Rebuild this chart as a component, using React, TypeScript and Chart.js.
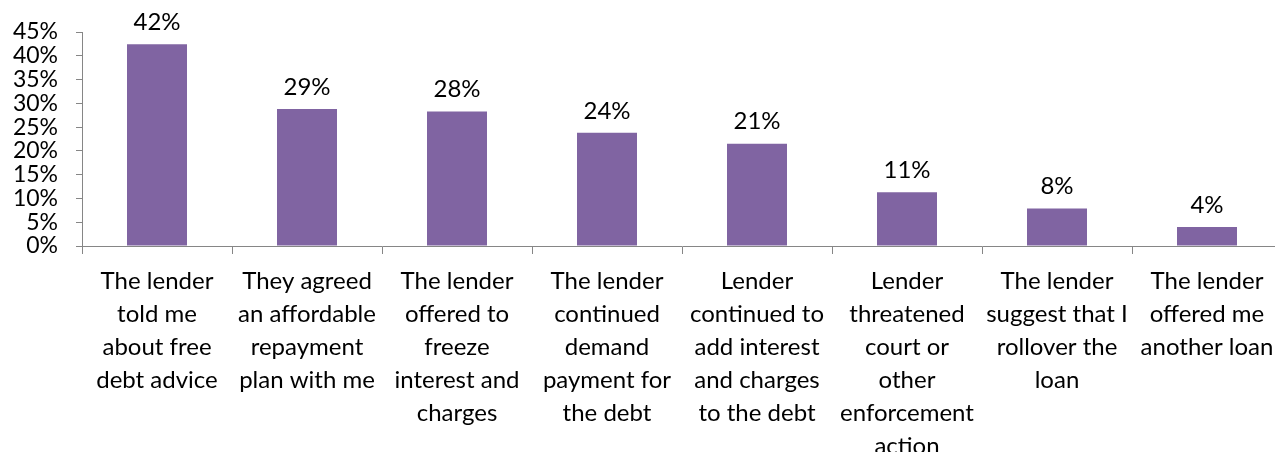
import React, { useEffect, useRef } from "react";
import { Chart, registerables } from "chart.js";

Chart.register(...registerables);

const categories: string[][] = [
  ["The lender", "told me", "about free", "debt advice"],
  ["They agreed", "an affordable", "repayment", "plan with me"],
  ["The lender", "offered to", "freeze", "interest and", "charges"],
  ["The lender", "continued", "demand", "payment for", "the debt"],
  ["Lender", "continued to", "add interest", "and charges", "to the debt"],
  ["Lender", "threatened", "court or", "other", "enforcement", "action"],
  ["The lender", "suggest that I", "rollover the", "loan"],
  ["The lender", "offered me", "another loan"],
];
const values: number[] = [42.4, 28.8, 28.3, 23.8, 21.5, 11.3, 7.9, 4.0];
const valueLabels: string[] = ["42%", "29%", "28%", "24%", "21%", "11%", "8%", "4%"];
const yTicks: number[] = [0, 5, 10, 15, 20, 25, 30, 35, 40, 45];

const FONT = "Lato";
const CANVAS_W = 1292;
const CANVAS_H = 480;
const AREA_RIGHT = 1282;
const AREA_LEFT = 82;
const AREA_TOP = 32;
const AREA_BOTTOM = 246;

const valueLabelPlugin = {
  id: "valueLabels",
  afterDatasetsDraw(chart: any) {
    const ctx = chart.ctx;
    const meta = chart.getDatasetMeta(0);
    ctx.save();
    ctx.font = `24px ${FONT}`;
    ctx.fillStyle = "#000";
    ctx.textAlign = "center";
    ctx.textBaseline = "bottom";
    meta.data.forEach((bar: any, i: number) => {
      ctx.fillText(valueLabels[i], bar.x, bar.y - 10);
    });
    ctx.restore();
  },
};

export default function App() {
  const ref = useRef<HTMLCanvasElement>(null);
  useEffect(() => {
    if (!ref.current) return;
    const chart = new Chart(ref.current, {
      type: "bar",
      data: {
        labels: categories,
        datasets: [
          {
            data: values,
            backgroundColor: "#8064A2",
            borderWidth: 0,
            barPercentage: 0.4,
            categoryPercentage: 1,
          },
        ],
      },
      options: {
        animation: false,
        responsive: false,
        maintainAspectRatio: false,
        layout: {
          padding: { left: 0, top: AREA_TOP, right: CANVAS_W - AREA_RIGHT, bottom: 0 },
        },
        plugins: { legend: { display: false }, tooltip: { enabled: false } },
        scales: {
          x: {
            grid: {
              display: true,
              drawOnChartArea: false,
              drawTicks: true,
              tickLength: 8,
              offset: true,
              color: "#868686",
            },
            border: { color: "#868686", width: 1 },
            ticks: {
              autoSkip: false,
              maxRotation: 0,
              minRotation: 0,
              padding: 11,
              color: "#000",
              font: { family: FONT, size: 24, lineHeight: 1.375 },
            },
            afterFit(scale: any) {
              scale.height = CANVAS_H - AREA_BOTTOM;
            },
          },
          y: {
            min: 0,
            max: 45,
            afterBuildTicks(scale: any) {
              scale.ticks = yTicks.map((v) => ({ value: v }));
            },
            grid: {
              display: true,
              drawOnChartArea: false,
              drawTicks: true,
              tickLength: 6,
              color: "#868686",
            },
            border: { color: "#868686", width: 1 },
            ticks: {
              autoSkip: false,
              padding: 18,
              color: "#000",
              font: { family: FONT, size: 23, lineHeight: 1 },
              callback: (v: any) => `${v}%`,
            },
            afterFit(scale: any) {
              scale.width = AREA_LEFT;
            },
          },
        },
      },
      plugins: [valueLabelPlugin],
    });
    return () => chart.destroy();
  }, []);

  return (
    <div
      style={{
        position: "fixed",
        left: 0,
        top: 0,
        width: 1275,
        height: 452,
        overflow: "hidden",
        background: "#fff",
      }}
    >
      <canvas
        ref={ref}
        width={CANVAS_W}
        height={CANVAS_H}
        style={{ position: "absolute", left: 0, top: 0, width: CANVAS_W, height: CANVAS_H }}
      />
    </div>
  );
}
